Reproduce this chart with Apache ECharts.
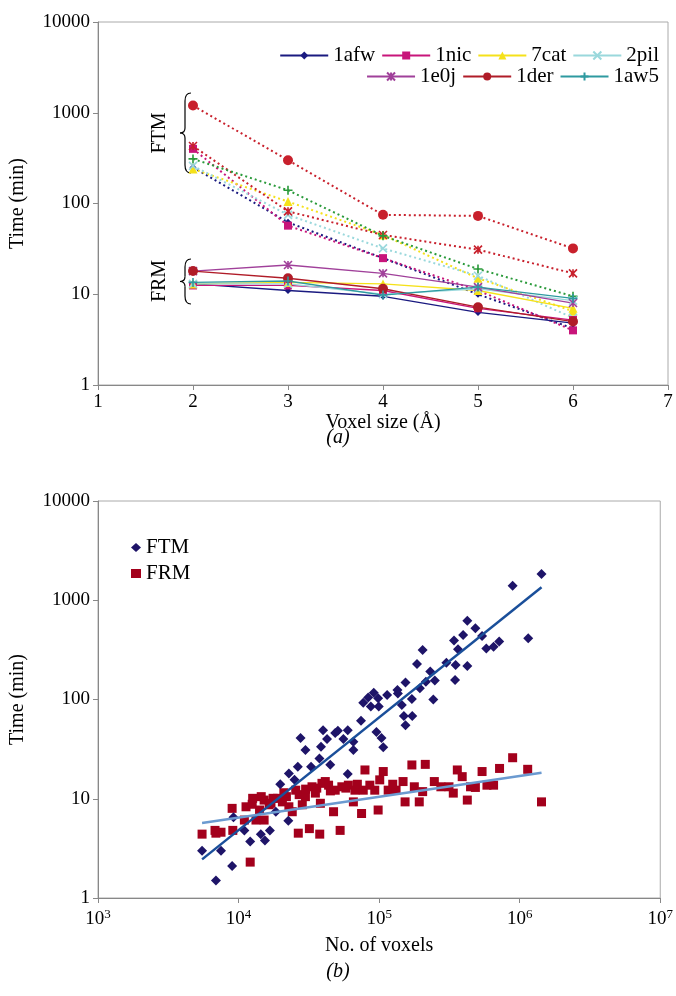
<!DOCTYPE html>
<html>
<head>
<meta charset="utf-8">
<script src="https://cdn.jsdelivr.net/npm/echarts@6/dist/echarts.min.js"></script>
<style>
html, body { margin: 0; padding: 0; background: #fff; }
#chart { width: 676px; height: 996px; }
</style>
</head>
<body>
<div id="chart"></div>
<script>
// (a) 运行时间 vs 体素大小
var voxelSizes = [2, 3, 4, 5, 6];
var proteins = ['1afw', '1nic', '7cat', '2pil', '1e0j', '1der', '1aw5'];
var ftmTimes = {
    '1afw': [250, 62, 25, 10, 4.2],
    '1nic': [400, 57, 25, 11, 4],
    '7cat': [240, 105, 45, 15, 6.5],
    '2pil': [260, 75, 32, 16, 5.5],
    '1e0j': [430, 82, 45, 31, 17],
    '1der': [1200, 300, 75, 73, 32],
    '1aw5': [310, 140, 44, 19, 9.5]
};
var frmTimes = {
    '1afw': [13, 11, 9.5, 6.3, 4.8],
    '1nic': [12.5, 12.5, 11, 7, 5.2],
    '7cat': [13, 13.5, 13, 11, 7],
    '2pil': [13, 13, 10, 11.5, 8.5],
    '1e0j': [18, 21, 17, 12, 8],
    '1der': [18, 15, 11.5, 7.2, 5],
    '1aw5': [13.5, 14, 9.8, 12, 9]
};
var yTicks = [1, 10, 100, 1000, 10000];

// (b) 运行时间 vs 体素数量
var ftmScatter = [
    [5.5e3, 3.0], [6.9e3, 1.5], [7.5e3, 3.0], [9.0e3, 2.1], [9.2e3, 6.5], [1.10e4, 4.8],
    [1.21e4, 3.7], [1.44e4, 4.4], [1.54e4, 3.8], [1.67e4, 4.8], [1.84e4, 7.4], [2.26e4, 6.0],
    [1.98e4, 14], [2.28e4, 18], [2.5e4, 15.5], [2.64e4, 21], [2.76e4, 41], [2.99e4, 31],
    [3.28e4, 21], [3.76e4, 25.5], [3.86e4, 33.5], [3.99e4, 49], [4.26e4, 40], [4.49e4, 22],
    [4.87e4, 46], [5.09e4, 48.5], [5.57e4, 40], [5.98e4, 49], [5.98e4, 17.8], [6.56e4, 31],
    [6.56e4, 37.6], [7.43e4, 61], [7.71e4, 93], [8.36e4, 105], [9.16e4, 117], [9.84e4, 103],
    [8.73e4, 85], [9.94e4, 85], [9.57e4, 47], [1.04e5, 41], [1.07e5, 33], [1.14e5, 111],
    [1.35e5, 125], [1.36e5, 115], [1.45e5, 88], [1.54e5, 148], [1.50e5, 68], [1.54e5, 55],
    [1.71e5, 101], [1.72e5, 68], [1.86e5, 228], [1.95e5, 130], [2.04e5, 315], [2.15e5, 151],
    [2.31e5, 191], [2.43e5, 100], [2.49e5, 155], [3.01e5, 235], [3.41e5, 392], [3.47e5, 157],
    [3.50e5, 223], [3.64e5, 320], [3.96e5, 447], [4.24e5, 622], [4.24e5, 217], [4.84e5, 521],
    [5.40e5, 437], [5.79e5, 327], [6.52e5, 340], [7.15e5, 383], [8.91e5, 1400], [1.15e6, 413],
    [1.43e6, 1840]
];
var frmScatter = [
    [5.5e3, 4.4], [6.8e3, 4.8], [6.9e3, 4.5], [7.5e3, 4.6], [9.0e3, 8.0], [9.1e3, 4.8],
    [1.10e4, 6.1], [1.13e4, 8.3], [1.21e4, 2.3], [1.26e4, 10.1], [1.33e4, 6.1], [1.41e4, 7.7],
    [1.52e4, 9.7], [1.52e4, 6.1], [1.65e4, 8.7], [1.76e4, 10.1], [1.89e4, 10.1], [2.05e4, 9.3],
    [2.19e4, 10.5], [2.28e4, 8.3], [2.41e4, 7.4], [2.55e4, 12.2], [2.66e4, 4.5], [2.84e4, 8.7],
    [2.99e4, 10.5], [3.19e4, 5.0], [3.33e4, 13.2], [3.52e4, 11.4], [3.78e4, 4.4], [3.82e4, 9.0],
    [3.92e4, 14.3], [4.14e4, 14.9], [4.37e4, 13.7], [4.74e4, 7.4], [4.87e4, 12.2], [5.28e4, 4.8],
    [5.43e4, 13.2], [6.04e4, 13.7], [6.56e4, 9.3], [6.73e4, 12.2], [7.50e4, 7.1], [7.71e4, 12.2],
    [7.93e4, 19.5], [8.59e4, 13.7], [9.31e4, 12.2], [9.84e4, 7.7], [1.01e5, 15.5], [1.07e5, 18.8],
    [1.16e5, 12.2], [1.32e5, 12.2], [1.48e5, 14.9], [1.53e5, 9.3], [1.71e5, 21.9], [1.78e5, 13.2],
    [1.93e5, 9.3], [2.04e5, 11.8], [2.13e5, 22.2], [2.47e5, 14.9], [2.75e5, 13.2], [3.14e5, 13.2],
    [3.37e5, 11.4], [3.60e5, 19.5], [3.90e5, 16.7], [4.24e5, 9.7], [4.47e5, 13.2], [4.84e5, 13.0],
    [5.40e5, 18.8], [5.85e5, 13.7], [6.52e5, 13.7], [7.19e5, 20.2], [8.91e5, 25.9], [1.14e6, 19.8],
    [1.43e6, 9.3], [1.25e4, 8.8], [1.45e4, 10.5], [1.7e4, 9.0], [2.1e4, 11.5], [2.7e4, 11.0],
    [3.0e4, 12.5], [3.6e4, 12.8], [4.5e4, 12.0], [5.8e4, 12.8], [7.0e4, 14.0], [1.25e5, 14.0]
];
var ftmTrend = [[5.5e3, 2.45], [1.43e6, 1350]];
var frmTrend = [[5.5e3, 5.7], [1.43e6, 18.3]];

var serif = 'Liberation Serif';
var lineColors = {
    '1afw': '#1a1a80', '1nic': '#c8157a', '7cat': '#f5e11a', '2pil': '#9ad8dc',
    '1e0j': '#a0409a', '1der': '#b01c28', '1aw5': '#2e9aa0'
};
var ftmColors = {
    '1afw': '#1a1a80', '1nic': '#c8157a', '7cat': '#f5e11a', '2pil': '#9ad8dc',
    '1e0j': '#c8202c', '1der': '#c8202c', '1aw5': '#2a9a3a'
};
var xPath = 'path://M0,0L10,10M10,0L0,10';
var starPath = 'path://M0,0L10,10M10,0L0,10M5,0L5,10';
var plusPath = 'path://M5,0L5,10M0,5L10,5';
var symbols = {
    '1afw': ['diamond', 7], '1nic': ['rect', 8], '7cat': ['triangle', 9], '2pil': [xPath, 8],
    '1e0j': [starPath, 8], '1der': ['circle', 10], '1aw5': [plusPath, 9]
};
var strokeOnly = { '2pil': 1, '1e0j': 1, '1aw5': 1 };

function lineSeries(name, values, color, dotted) {
    var s = symbols[name];
    var hollow = strokeOnly[name];
    return {
        name: name,
        type: 'line',
        xAxisIndex: 0, yAxisIndex: 0,
        data: voxelSizes.map(function (v, i) { return [v, values[i]]; }),
        symbol: s[0],
        symbolSize: s[1],
        lineStyle: { color: color, width: dotted ? 2 : 1.3, type: dotted ? [2, 3] : 'solid' },
        itemStyle: hollow ? { color: 'none', borderColor: color, borderWidth: 1.6 } : { color: color },
        z: dotted ? 2 : 3
    };
}

var series = [];
proteins.forEach(function (p) { series.push(lineSeries(p, frmTimes[p], lineColors[p], false)); });
proteins.forEach(function (p) { series.push(lineSeries(p, ftmTimes[p], ftmColors[p], true)); });

series.push({
    name: 'FTM', type: 'scatter', xAxisIndex: 1, yAxisIndex: 1,
    data: ftmScatter, symbol: 'diamond', symbolSize: 10, itemStyle: { color: '#1e1468', opacity: 1 }, z: 3
});
series.push({
    name: 'FRM', type: 'scatter', xAxisIndex: 1, yAxisIndex: 1,
    data: frmScatter, symbol: 'rect', symbolSize: 9, itemStyle: { color: '#a3001c', opacity: 1 }, z: 2
});
series.push({
    type: 'line', xAxisIndex: 1, yAxisIndex: 1, data: ftmTrend, symbol: 'none',
    lineStyle: { color: '#1a4f9a', width: 2.5 }, z: 4
});
series.push({
    type: 'line', xAxisIndex: 1, yAxisIndex: 1, data: frmTrend, symbol: 'none',
    lineStyle: { color: '#6b9ad0', width: 2.5 }, z: 4
});

var axisLabelStyle = { color: '#000', fontFamily: serif, fontSize: 19, formatter: function (v) { return String(v); } };
var axisLineStyle = { lineStyle: { color: '#888' } };

// 花括号
function brace(y0, h) {
    var m = h / 2;
    var st = { fill: 'none', stroke: '#000', lineWidth: 1.2 };
    return {
        type: 'group', x: 183, y: y0,
        children: [
            { type: 'bezierCurve', shape: { x1: 8, y1: 0, cpx1: 2, cpy1: 0, x2: 2, y2: 8 }, style: st },
            { type: 'line', shape: { x1: 2, y1: 8, x2: 2, y2: m - 5 }, style: st },
            { type: 'bezierCurve', shape: { x1: 2, y1: m - 5, cpx1: 2, cpy1: m, x2: -3, y2: m }, style: st },
            { type: 'bezierCurve', shape: { x1: -3, y1: m, cpx1: 2, cpy1: m, x2: 2, y2: m + 5 }, style: st },
            { type: 'line', shape: { x1: 2, y1: m + 5, x2: 2, y2: h - 8 }, style: st },
            { type: 'bezierCurve', shape: { x1: 2, y1: h - 8, cpx1: 2, cpy1: h, x2: 8, y2: h }, style: st }
        ]
    };
}

var legendText = { fontFamily: serif, fontSize: 21, color: '#000' };

var option = {
    animation: false,
    backgroundColor: '#fff',
    grid: [
        { left: 96, right: 8, top: 22, height: 363, show: true, borderColor: '#aaa', backgroundColor: 'transparent' },
        { left: 97, right: 9, top: 501, height: 397, show: true, borderColor: '#aaa', backgroundColor: 'transparent' }
    ],
    legend: [
        {
            data: proteins.slice(0, 4), right: 12, top: 40, itemWidth: 48, itemHeight: 10, itemGap: 6,
            textStyle: legendText
        },
        {
            data: proteins.slice(4), right: 12, top: 61, itemWidth: 48, itemHeight: 10, itemGap: 6,
            textStyle: legendText
        },
        {
            data: ['FTM', 'FRM'], orient: 'vertical', left: 126, top: 532, itemWidth: 10, itemHeight: 9,
            itemGap: 5, textStyle: legendText
        }
    ],
    xAxis: [
        {
            gridIndex: 0, type: 'value', min: 1, max: 7, interval: 1,
            name: 'Voxel size (Å)', nameLocation: 'middle', nameGap: 18,
            nameTextStyle: { fontFamily: serif, fontSize: 20, color: '#000', verticalAlign: 'top', padding: [0, 0, 0, 0] },
            axisLine: axisLineStyle, axisTick: { lineStyle: { color: '#888' } },
            axisLabel: axisLabelStyle, splitLine: { show: false }
        },
        {
            gridIndex: 1, type: 'log', logBase: 10, min: 1e3, max: 1e7,
            name: 'No. of voxels', nameLocation: 'middle', nameGap: 38,
            nameTextStyle: { fontFamily: serif, fontSize: 20, color: '#000' },
            axisLine: axisLineStyle, axisTick: { lineStyle: { color: '#888' } },
            axisLabel: {
                color: '#000', fontFamily: serif, fontSize: 19, margin: 10,
                formatter: function (v) { return '10{s|' + Math.round(Math.log10(v)) + '}'; },
                rich: { s: { fontFamily: serif, fontSize: 13, verticalAlign: 'top', padding: [0, 0, 10, 0], color: '#000' } }
            },
            splitLine: { show: false }
        }
    ],
    yAxis: [
        {
            gridIndex: 0, type: 'log', logBase: 10, min: yTicks[0], max: yTicks[yTicks.length - 1],
            name: 'Time (min)', nameLocation: 'middle', nameGap: 70,
            nameTextStyle: { fontFamily: serif, fontSize: 20, color: '#000' },
            axisLine: { show: true, lineStyle: { color: '#888' } }, axisTick: { show: true, lineStyle: { color: '#888' } },
            axisLabel: axisLabelStyle, splitLine: { show: false }
        },
        {
            gridIndex: 1, type: 'log', logBase: 10, min: yTicks[0], max: yTicks[yTicks.length - 1],
            name: 'Time (min)', nameLocation: 'middle', nameGap: 70,
            nameTextStyle: { fontFamily: serif, fontSize: 20, color: '#000' },
            axisLine: { show: true, lineStyle: { color: '#888' } }, axisTick: { show: true, lineStyle: { color: '#888' } },
            axisLabel: axisLabelStyle, splitLine: { show: false }
        }
    ],
    graphic: [
        { type: 'text', x: 160, y: 133, rotation: Math.PI / 2, style: { text: 'FTM', font: '20px "Liberation Serif"', fill: '#000', align: 'center', verticalAlign: 'middle' } },
        { type: 'text', x: 160, y: 281, rotation: Math.PI / 2, style: { text: 'FRM', font: '20px "Liberation Serif"', fill: '#000', align: 'center', verticalAlign: 'middle' } },
        brace(93, 80),
        brace(259, 45),
        { type: 'text', x: 338, y: 438, style: { text: '(a)', font: 'italic 20px "Liberation Serif"', fill: '#000', align: 'center', verticalAlign: 'middle' } },
        { type: 'text', x: 338, y: 972, style: { text: '(b)', font: 'italic 20px "Liberation Serif"', fill: '#000', align: 'center', verticalAlign: 'middle' } }
    ],
    series: series
};

var myChart = echarts.init(document.getElementById('chart'));
myChart.setOption(option);
</script>
</body>
</html>
